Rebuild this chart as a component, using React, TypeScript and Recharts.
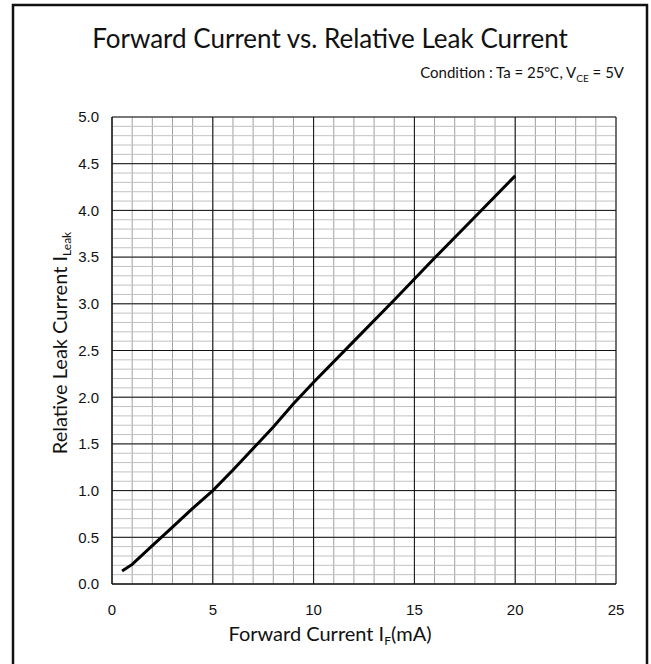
import React from 'react'
import { LineChart, Line, XAxis, YAxis, CartesianGrid } from 'recharts'

// forward current I_F (mA) vs relative leak current
const current = [0.5, 1, 2, 3, 4, 5, 6, 7, 8, 9, 10, 12, 14, 16, 18, 20]
const leak = [0.14, 0.21, 0.41, 0.61, 0.81, 1.0, 1.22, 1.45, 1.68, 1.93, 2.16, 2.6, 3.04, 3.49, 3.93, 4.37]

const xTicks = [0, 5, 10, 15, 20, 25]
const yTicks = [0, 0.5, 1, 1.5, 2, 2.5, 3, 3.5, 4, 4.5, 5]
const xMinor = Array.from({ length: 26 }, (_, i) => i)
const yMinor = Array.from({ length: 51 }, (_, i) => i / 10)

const data = current.map((x, i) => ({ x, y: leak[i] }))

const tickStyle = { fontFamily: '"Liberation Sans", Arial, sans-serif', fontSize: 15, fill: '#111' }
const labelFont = 'Lato, "Open Sans", sans-serif'

export default function App() {
  return (
    <div style={{ position: 'absolute', left: 0, top: 0, width: 651, height: 664, background: '#fff' }}>
      <LineChart
        width={651}
        height={664}
        data={data}
        margin={{ top: 117, right: 35, bottom: 50, left: 52 }}
      >
        <CartesianGrid verticalValues={xMinor} horizontal={false} stroke="#a0a0a0" strokeWidth={1} />
        <CartesianGrid horizontalValues={yMinor} vertical={false} stroke="#c2c2c2" strokeWidth={1} />
        <CartesianGrid verticalValues={xTicks} horizontalValues={yTicks} stroke="#111" strokeWidth={1} />
        <XAxis
          dataKey="x"
          type="number"
          domain={[0, 25]}
          ticks={xTicks}
          interval={0}
          height={30}
          tick={tickStyle}
          tickLine={false}
          tickSize={6}
          tickMargin={14}
          axisLine={{ stroke: '#111' }}
        />
        <YAxis
          type="number"
          domain={[0, 5]}
          ticks={yTicks}
          interval={0}
          width={60}
          tick={tickStyle}
          tickFormatter={(v) => Number(v).toFixed(1)}
          tickLine={false}
          tickSize={6}
          tickMargin={7}
          axisLine={{ stroke: '#111' }}
        />
        <Line
          type="linear"
          dataKey="y"
          stroke="#000"
          strokeWidth={3}
          dot={false}
          isAnimationActive={false}
        />
      </LineChart>
      <svg
        width={651}
        height={664}
        style={{ position: 'absolute', left: 0, top: 0, pointerEvents: 'none' }}
      >
        <path d="M13,670 V5 H647 V670" fill="none" stroke="#111" strokeWidth={2.5} />
        <text x={330} y={48} textAnchor="middle" fontFamily={labelFont} fontSize={26} fill="#111">
          Forward Current vs. Relative Leak Current
        </text>
        <text x={624} y={78} textAnchor="end" fontFamily={labelFont} fontSize={15} fill="#111">
          Condition : Ta = 25℃, V
          <tspan fontSize={10} dy={4}>CE</tspan>
          <tspan dy={-4}> = 5V</tspan>
        </text>
        <text x={330} y={641} textAnchor="middle" fontFamily={labelFont} fontSize={20} fill="#111">
          Forward Current I
          <tspan fontSize={12} dy={4}>F</tspan>
          <tspan dy={-4}>(mA)</tspan>
        </text>
        <text
          transform="translate(67,343) rotate(-90)"
          textAnchor="middle"
          fontFamily={labelFont}
          fontSize={20}
          fill="#111"
        >
          Relative Leak Current I
          <tspan fontSize={12} dy={4}>Leak</tspan>
        </text>
      </svg>
    </div>
  )
}
